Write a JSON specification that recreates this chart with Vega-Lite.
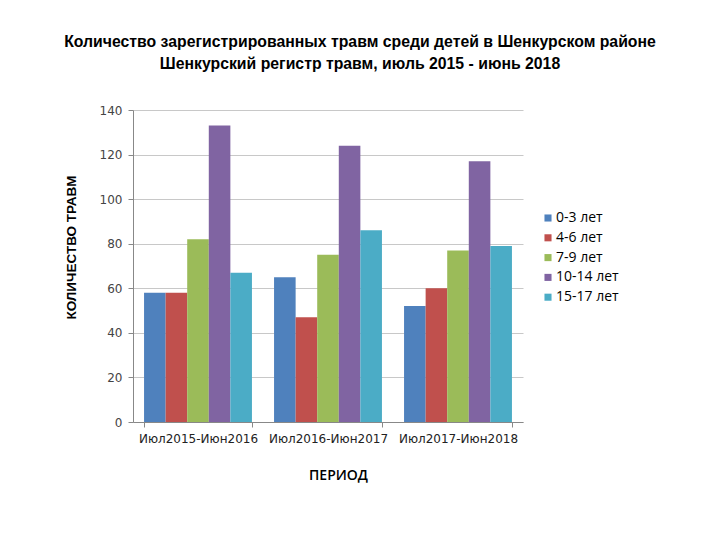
{
  "$schema": "https://vega.github.io/schema/vega-lite/v6.json",
  "autosize": {"type": "none"},
  "width": 390,
  "height": 312,
  "padding": {"left": 133, "top": 110, "right": 197, "bottom": 118},
  "background": "white",
  "title": {
    "text": ["Количество зарегистрированных травм среди детей в Шенкурском районе", "Шенкурский регистр травм,  июль 2015 - июнь 2018"],
    "font": "Liberation Sans",
    "fontSize": 15.8,
    "fontWeight": "bold",
    "color": "#000000",
    "lineHeight": 22,
    "anchor": "middle",
    "frame": "group",
    "dx": 32,
    "offset": 31
  },
  "data": {
    "values": [
      {"period": "Июл2015-Июн2016", "age": "0-3 лет", "count": 58},
      {"period": "Июл2015-Июн2016", "age": "4-6 лет", "count": 58},
      {"period": "Июл2015-Июн2016", "age": "7-9 лет", "count": 82},
      {"period": "Июл2015-Июн2016", "age": "10-14 лет", "count": 133},
      {"period": "Июл2015-Июн2016", "age": "15-17 лет", "count": 67},
      {"period": "Июл2016-Июн2017", "age": "0-3 лет", "count": 65},
      {"period": "Июл2016-Июн2017", "age": "4-6 лет", "count": 47},
      {"period": "Июл2016-Июн2017", "age": "7-9 лет", "count": 75},
      {"period": "Июл2016-Июн2017", "age": "10-14 лет", "count": 124},
      {"period": "Июл2016-Июн2017", "age": "15-17 лет", "count": 86},
      {"period": "Июл2017-Июн2018", "age": "0-3 лет", "count": 52},
      {"period": "Июл2017-Июн2018", "age": "4-6 лет", "count": 60},
      {"period": "Июл2017-Июн2018", "age": "7-9 лет", "count": 77},
      {"period": "Июл2017-Июн2018", "age": "10-14 лет", "count": 117},
      {"period": "Июл2017-Июн2018", "age": "15-17 лет", "count": 79}
    ]
  },
  "mark": {"type": "bar"},
  "encoding": {
    "x": {
      "field": "period",
      "type": "nominal",
      "sort": null,
      "scale": {"paddingInner": 0.17, "paddingOuter": 0.085},
      "axis": {
        "title": "ПЕРИОД",
        "titleFont": "Open Sans",
        "titleFontSize": 14,
        "titleFontWeight": 600,
        "titleColor": "#000000",
        "titlePadding": 24,
        "titleX": 205,
        "labelAngle": 0,
        "labelFont": "DejaVu Sans",
        "labelFontSize": 12,
        "labelColor": "#222222",
        "labelPadding": 6,
        "domainColor": "#888888",
        "tickColor": "#888888",
        "tickSize": 5,
        "tickBand": "extent"
      }
    },
    "xOffset": {
      "field": "age",
      "type": "nominal",
      "sort": ["0-3 лет", "4-6 лет", "7-9 лет", "10-14 лет", "15-17 лет"],
      "scale": {"paddingInner": 0, "paddingOuter": 0}
    },
    "y": {
      "field": "count",
      "type": "quantitative",
      "scale": {"domain": [0, 140], "nice": false},
      "axis": {
        "values": [0, 20, 40, 60, 80, 100, 120, 140],
        "title": "КОЛИЧЕСТВО ТРАВМ",
        "titleFont": "Liberation Sans",
        "titleFontSize": 13.5,
        "titleFontWeight": "bold",
        "titleColor": "#000000",
        "titlePadding": 21,
        "titleY": 137,
        "labelFont": "DejaVu Sans",
        "labelFontSize": 12,
        "labelColor": "#444444",
        "labelPadding": 6,
        "domainColor": "#888888",
        "tickColor": "#888888",
        "tickSize": 5,
        "gridColor": "#c8c8c8",
        "gridWidth": 1
      }
    },
    "color": {
      "field": "age",
      "type": "nominal",
      "sort": ["0-3 лет", "4-6 лет", "7-9 лет", "10-14 лет", "15-17 лет"],
      "scale": {"range": ["#4F81BD", "#C0504D", "#9BBB59", "#8064A2", "#4BACC6"]},
      "legend": {
        "title": null,
        "orient": "none",
        "legendX": 408,
        "legendY": 101,
        "symbolType": "square",
        "symbolSize": 50,
        "symbolStrokeWidth": 0,
        "labelFont": "Open Sans",
        "labelFontSize": 14,
        "labelColor": "#000000",
        "rowPadding": 5.8,
        "symbolOffset": 0,
        "labelOffset": 1
      }
    }
  },
  "config": {
    "view": {"stroke": null},
    "axis": {"grid": true},
    "axisX": {"grid": false}
  }
}
